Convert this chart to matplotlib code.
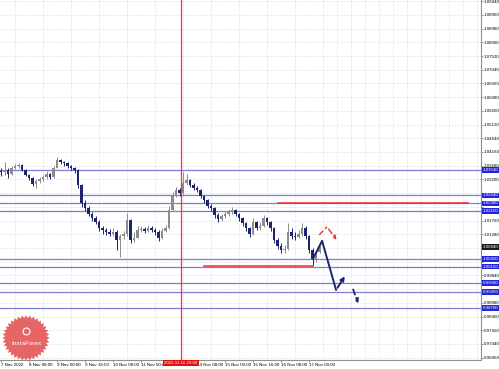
import numpy as np
import matplotlib
matplotlib.use("Agg")
import matplotlib.pyplot as plt

plt.rcParams['font.family'] = ['Liberation Sans', 'DejaVu Sans']

# 2-hour candles (price)
first_open = 1.0350
closes = [1.0346, 1.0353, 1.0339, 1.0360, 1.0367, 1.0371, 1.0353, 1.0336, 1.0325, 1.0304,
          1.0315, 1.0322, 1.0329, 1.0339, 1.0329, 1.0360, 1.0388, 1.0381, 1.0378, 1.0367,
          1.0360, 1.0353, 1.0301, 1.0238, 1.0220, 1.0199, 1.0185, 1.0171, 1.0150, 1.0143,
          1.0136, 1.0129, 1.0136, 1.0108, 1.0122, 1.0129, 1.0178, 1.0108, 1.0115, 1.0143,
          1.0147, 1.0140, 1.0150, 1.0143, 1.0136, 1.0115, 1.0140, 1.0150, 1.0213, 1.0262,
          1.0283, 1.0273, 1.0308, 1.0318, 1.0301, 1.0290, 1.0283, 1.0262, 1.0248, 1.0227,
          1.0220, 1.0196, 1.0182, 1.0192, 1.0199, 1.0206, 1.0213, 1.0199, 1.0185, 1.0168,
          1.0150, 1.0129, 1.0171, 1.0150, 1.0157, 1.0185, 1.0171, 1.0150, 1.0108, 1.0087,
          1.0073, 1.0077, 1.0136, 1.0122, 1.0119, 1.0129, 1.0150, 1.0122, 1.0073, 1.0042,
          1.0066, 1.0084]
highs = [1.0360, 1.0381, 1.0360, 1.0367, 1.0374, 1.0378, 1.0374, 1.0357, 1.0339, 1.0329,
         1.0322, 1.0329, 1.0336, 1.0350, 1.0343, 1.0367, 1.0399, 1.0392, 1.0385, 1.0381,
         1.0371, 1.0364, 1.0357, 1.0304, 1.0248, 1.0227, 1.0206, 1.0192, 1.0178, 1.0157,
         1.0150, 1.0147, 1.0150, 1.0143, 1.0129, 1.0140, 1.0203, 1.0182, 1.0136, 1.0157,
         1.0157, 1.0154, 1.0161, 1.0157, 1.0150, 1.0143, 1.0150, 1.0161, 1.0227, 1.0276,
         1.0294, 1.0290, 1.0346, 1.0339, 1.0322, 1.0308, 1.0297, 1.0287, 1.0266, 1.0252,
         1.0234, 1.0224, 1.0203, 1.0199, 1.0210, 1.0217, 1.0224, 1.0217, 1.0203, 1.0189,
         1.0171, 1.0154, 1.0185, 1.0175, 1.0171, 1.0196, 1.0189, 1.0175, 1.0154, 1.0115,
         1.0098, 1.0091, 1.0168, 1.0150, 1.0136, 1.0143, 1.0168, 1.0157, 1.0126, 1.0080,
         1.0073, 1.0091]
lows = [1.0332, 1.0336, 1.0325, 1.0336, 1.0357, 1.0360, 1.0350, 1.0332, 1.0318, 1.0297,
        1.0290, 1.0308, 1.0315, 1.0322, 1.0322, 1.0325, 1.0360, 1.0374, 1.0367, 1.0360,
        1.0353, 1.0343, 1.0290, 1.0224, 1.0210, 1.0192, 1.0175, 1.0164, 1.0140, 1.0129,
        1.0126, 1.0122, 1.0122, 1.0073, 1.0049, 1.0112, 1.0122, 1.0098, 1.0101, 1.0115,
        1.0136, 1.0133, 1.0136, 1.0136, 1.0126, 1.0105, 1.0112, 1.0136, 1.0147, 1.0210,
        1.0259, 1.0262, 1.0269, 1.0301, 1.0294, 1.0283, 1.0276, 1.0255, 1.0238, 1.0220,
        1.0210, 1.0185, 1.0171, 1.0175, 1.0185, 1.0192, 1.0199, 1.0192, 1.0175, 1.0157,
        1.0140, 1.0119, 1.0126, 1.0143, 1.0143, 1.0154, 1.0161, 1.0140, 1.0098, 1.0077,
        1.0063, 1.0063, 1.0073, 1.0112, 1.0108, 1.0115, 1.0122, 1.0112, 1.0063, 1.0021,
        1.0031, 1.0063]

# support / resistance levels
blue_levels = [1.0353, 1.0264, 1.0236, 1.0210, 1.0042, 1.0015, 0.9958, 0.9926, 0.9870]
red_levels = [1.0237, 1.0017]
red_starts = [79.1, 58.0]
red_ends = [133.4, 89.1]

# forecast arrows (bar index, price)
fc_solid_x = [89.1, 91.7, 95.7, 98.6]
fc_solid_y = [1.0042, 1.0105, 0.9933, 0.9989]
fc_dash_x = [100.3, 102.3]
fc_dash_y = [0.9944, 0.9877]
fc_red_x = [90.9, 93.1, 96.3]
fc_red_y = [1.0126, 1.0154, 1.0101]

cursor_bar = 51.4
cursor_label = "2022.11.11 23:00"

# "11 Nov 16:00" sits under the cursor box on the terminal, so it is left blank
date_ticks = [0, 8, 16, 24, 32, 40, 48, 56, 64, 72, 80, 88]
date_labels = ["7 Nov 2022", "8 Nov 08:00", "9 Nov 00:00", "9 Nov 16:00", "10 Nov 08:00",
               "11 Nov 00:00", "", "14 Nov 08:00", "15 Nov 00:00",
               "15 Nov 16:00", "16 Nov 08:00", "17 Nov 00:00"]
price_ticks = [round(0.9696 + 0.0048 * k, 5) for k in range(27)]

blue = '#7c7cd6'
red = '#f02a2a'
navy = '#1c2470'
fs = 3.2

fig = plt.figure(figsize=(4.99, 3.69), dpi=100)
ax = fig.add_axes([0, 9 / 369, 481 / 499, 360 / 369])
ax.set_xlim(-0.3, 137.1)
ax.set_ylim(0.9688, 1.0948)

# grid
ax.set_xticks(np.arange(0, 138, 4), minor=True)
ax.set_yticks(price_ticks)
ax.grid(True, which='minor', axis='x', color='#cfcfcf', lw=0.5, ls=(0, (1, 1.5)))
ax.grid(True, which='major', axis='y', color='#cfcfcf', lw=0.5, ls=(0, (1, 1.5)))

# levels
for lv in blue_levels:
    ax.axhline(lv, color=blue, lw=0.9, zorder=2)
for lv, s, e in zip(red_levels, red_starts, red_ends):
    ax.plot([s, e], [lv, lv], color=red, lw=1.1, zorder=3)

# candles
idx = np.arange(len(closes))
opens = [first_open] + closes[:-1]
for i, o, c, h, l in zip(idx, opens, closes, highs, lows):
    col = '#8c8c8c' if c >= o else navy
    ax.vlines(i, l, h, color=col, lw=0.7, zorder=4)
    lo, hi = min(o, c), max(o, c)
    ax.bar(i, max(hi - lo, 0.00012), bottom=lo, width=0.7, color=col, lw=0, zorder=4)

# cursor line
ax.axvline(cursor_bar, color='#ff3030', lw=0.9, zorder=5)

# forecast
ax.plot(fc_solid_x[:-1], fc_solid_y[:-1], color=navy, lw=1.4, zorder=6, solid_capstyle='round')
ax.annotate('', xy=(fc_solid_x[-1], fc_solid_y[-1]), xytext=(fc_solid_x[-2], fc_solid_y[-2]),
            arrowprops=dict(arrowstyle='->', color=navy, lw=1.4, mutation_scale=6), zorder=6)
ax.annotate('', xy=(fc_dash_x[1], fc_dash_y[1]), xytext=(fc_dash_x[0], fc_dash_y[0]),
            arrowprops=dict(arrowstyle='->', color=navy, lw=1.3, ls=(0, (3, 2)), mutation_scale=6),
            zorder=6)
ax.plot(fc_red_x[:-1], fc_red_y[:-1], color=red, lw=1.0, ls=(0, (4, 2)), zorder=6)
ax.annotate('', xy=(fc_red_x[-1], fc_red_y[-1]), xytext=(fc_red_x[-2], fc_red_y[-2]),
            arrowprops=dict(arrowstyle='->', color=red, lw=1.0, ls=(0, (4, 2)), mutation_scale=6),
            zorder=6)

# axes styling
for side in ['left', 'top']:
    ax.spines[side].set_visible(False)
for side in ['right', 'bottom']:
    ax.spines[side].set_color('#909090')
    ax.spines[side].set_linewidth(0.8)
ax.yaxis.tick_right()
boxed = blue_levels + [closes[-1]]
# tick labels that sit under a price box are hidden, as on the terminal
ytl = ['' if min(abs(p - b) for b in boxed) < 0.0014 else '%.5f' % p for p in price_ticks]
ax.set_yticklabels(ytl, fontsize=fs)
ax.set_xticks(date_ticks)
ax.set_xticklabels(date_labels, fontsize=fs, ha='left')
ax.tick_params(axis='both', which='major', length=1.5, width=0.5, pad=0.6, color='#606060')
ax.tick_params(axis='x', which='minor', length=0)

# price boxes on the right axis
tr = ax.get_yaxis_transform()
for lv in blue_levels:
    ax.text(1.003, lv, '%.5f' % lv, transform=tr, fontsize=fs, color='white', va='center',
            ha='left', zorder=10, clip_on=False,
            bbox=dict(boxstyle='square,pad=0.2', fc='#2424d8', ec='none'))
ax.text(1.003, closes[-1], '%.5f' % closes[-1], transform=tr, fontsize=fs, color='white',
        va='center', ha='left', zorder=10, clip_on=False,
        bbox=dict(boxstyle='square,pad=0.2', fc='#1a1a1a', ec='none'))

# cursor date box
ax.text(cursor_bar, -0.003, cursor_label, transform=ax.get_xaxis_transform(), fontsize=fs,
        color='white', ha='center', va='top', zorder=10, clip_on=False,
        bbox=dict(boxstyle='square,pad=0.3', fc='#e01010', ec='none'))

# watermark logo
lax = fig.add_axes([0, 6 / 369, 52 / 499, 50 / 369])
lax.set_xlim(-1.1, 1.1)
lax.set_ylim(-1.1, 1.1)
lax.axis('off')
ang = np.linspace(0, 2 * np.pi, 73)
rad = np.where(np.arange(73) % 2 == 0, 1.0, 0.88)
lax.fill(rad * np.cos(ang), rad * np.sin(ang), color='#e24b4b', alpha=0.85, lw=0)
lax.text(0, -0.25, 'InstaForex', fontsize=4.6, color='white', ha='center', va='center')
lax.plot([0], [0.3], marker='o', ms=5, mfc='none', mec='white', mew=0.8)

fig.savefig('out.png', dpi=100)
